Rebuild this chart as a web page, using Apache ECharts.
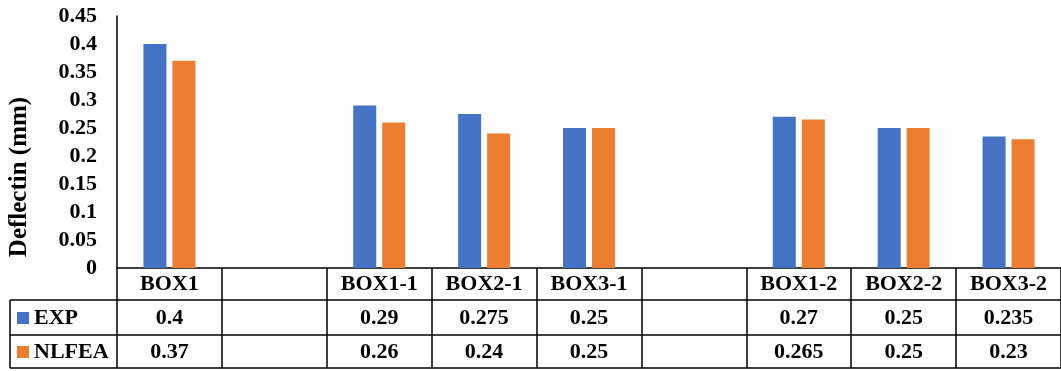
<!DOCTYPE html>
<html>
<head>
<meta charset="utf-8">
<script src="https://cdn.jsdelivr.net/npm/echarts@6/dist/echarts.min.js"></script>
<style>
  html, body { margin: 0; padding: 0; background: #fff; }
  #chart { width: 1061px; height: 371px; }
</style>
</head>
<body>
<div id="chart"></div>
<script>
// Deflection per specimen, test vs. nonlinear FE analysis
const categories = ['BOX1', '', 'BOX1-1', 'BOX2-1', 'BOX3-1', '', 'BOX1-2', 'BOX2-2', 'BOX3-2'];
const expValues = [0.4, null, 0.29, 0.275, 0.25, null, 0.27, 0.25, 0.235];
const nlfeaValues = [0.37, null, 0.26, 0.24, 0.25, null, 0.265, 0.25, 0.23];
const seriesNames = ['EXP', 'NLFEA'];
const yTicks = { min: 0, max: 0.45, interval: 0.05 };

const FONT = '"Liberation Serif", "Times New Roman", serif';
const BLUE = '#4472C4';
const ORANGE = '#ED7D31';

// plot and data-table geometry
const GRID_LEFT = 117, GRID_TOP = 16, GRID_W = 945, GRID_H = 252;
const ROW_H = [32, 35, 33]; // category row, EXP row, NLFEA row
const TABLE_LEFT = 10;
const axisY = GRID_TOP + GRID_H;
const row1 = axisY + ROW_H[0];
const row2 = row1 + ROW_H[1];
const row3 = row2 + ROW_H[2];

const chart = echarts.init(document.getElementById('chart'));

const fmt = v => (v === null || v === undefined ? '' : String(v));
const labelStyle = { fontFamily: FONT, fontWeight: 'bold', fontSize: 22, color: '#000', lineHeight: 22 };

function tableAxis(values, offset, margin) {
  return {
    type: 'category',
    data: values.map(fmt),
    position: 'bottom',
    offset: offset,
    axisLine: { show: false },
    axisTick: { show: false },
    axisLabel: Object.assign({ interval: 0, margin: margin }, labelStyle)
  };
}

const hLine = (x1, y1, x2, y2) => ({
  type: 'line',
  shape: { x1, y1, x2, y2 },
  style: { stroke: '#000', lineWidth: 1.5 },
  silent: true
});

chart.setOption({
  animation: false,
  grid: { left: GRID_LEFT, top: GRID_TOP, width: GRID_W, height: GRID_H },
  legend: {
    orient: 'vertical',
    left: 17,
    top: row1 + 7,
    padding: 0,
    itemWidth: 12,
    itemHeight: 12,
    itemGap: 12,
    icon: 'rect',
    textStyle: labelStyle,
    data: seriesNames
  },
  xAxis: [
    {
      type: 'category',
      data: categories,
      position: 'bottom',
      axisLine: { lineStyle: { color: '#000', width: 1.5 } },
      axisTick: { show: true, interval: 0, length: ROW_H[0] + ROW_H[1] + ROW_H[2], lineStyle: { color: '#000', width: 1.5 } },
      axisLabel: Object.assign({ interval: 0, margin: 5 }, labelStyle)
    },
    tableAxis(expValues, ROW_H[0], 7),
    tableAxis(nlfeaValues, ROW_H[0] + ROW_H[1], 6)
  ],
  yAxis: {
    type: 'value',
    min: yTicks.min,
    max: yTicks.max,
    interval: yTicks.interval,
    axisLine: { show: true, lineStyle: { color: '#000', width: 1.5 } },
    axisTick: { show: false },
    splitLine: { show: false },
    axisLabel: Object.assign({ margin: 20 }, labelStyle)
  },
  series: [
    {
      name: seriesNames[0],
      type: 'bar',
      data: expValues,
      barWidth: 23,
      barGap: '26%',
      itemStyle: { color: BLUE }
    },
    {
      name: seriesNames[1],
      type: 'bar',
      data: nlfeaValues,
      barWidth: 23,
      itemStyle: { color: ORANGE }
    }
  ],
  graphic: [
    hLine(TABLE_LEFT, row1, GRID_LEFT + GRID_W, row1),
    hLine(TABLE_LEFT, row2, GRID_LEFT + GRID_W, row2),
    hLine(TABLE_LEFT, row3, GRID_LEFT + GRID_W, row3),
    hLine(TABLE_LEFT, row1, TABLE_LEFT, row3),
    {
      type: 'text',
      x: 20,
      y: 177,
      rotation: Math.PI / 2,
      style: {
        text: 'Deflectin (mm)',
        font: 'bold 25px ' + FONT,
        fill: '#000',
        textAlign: 'center',
        textVerticalAlign: 'middle'
      }
    }
  ]
});
</script>
</body>
</html>
